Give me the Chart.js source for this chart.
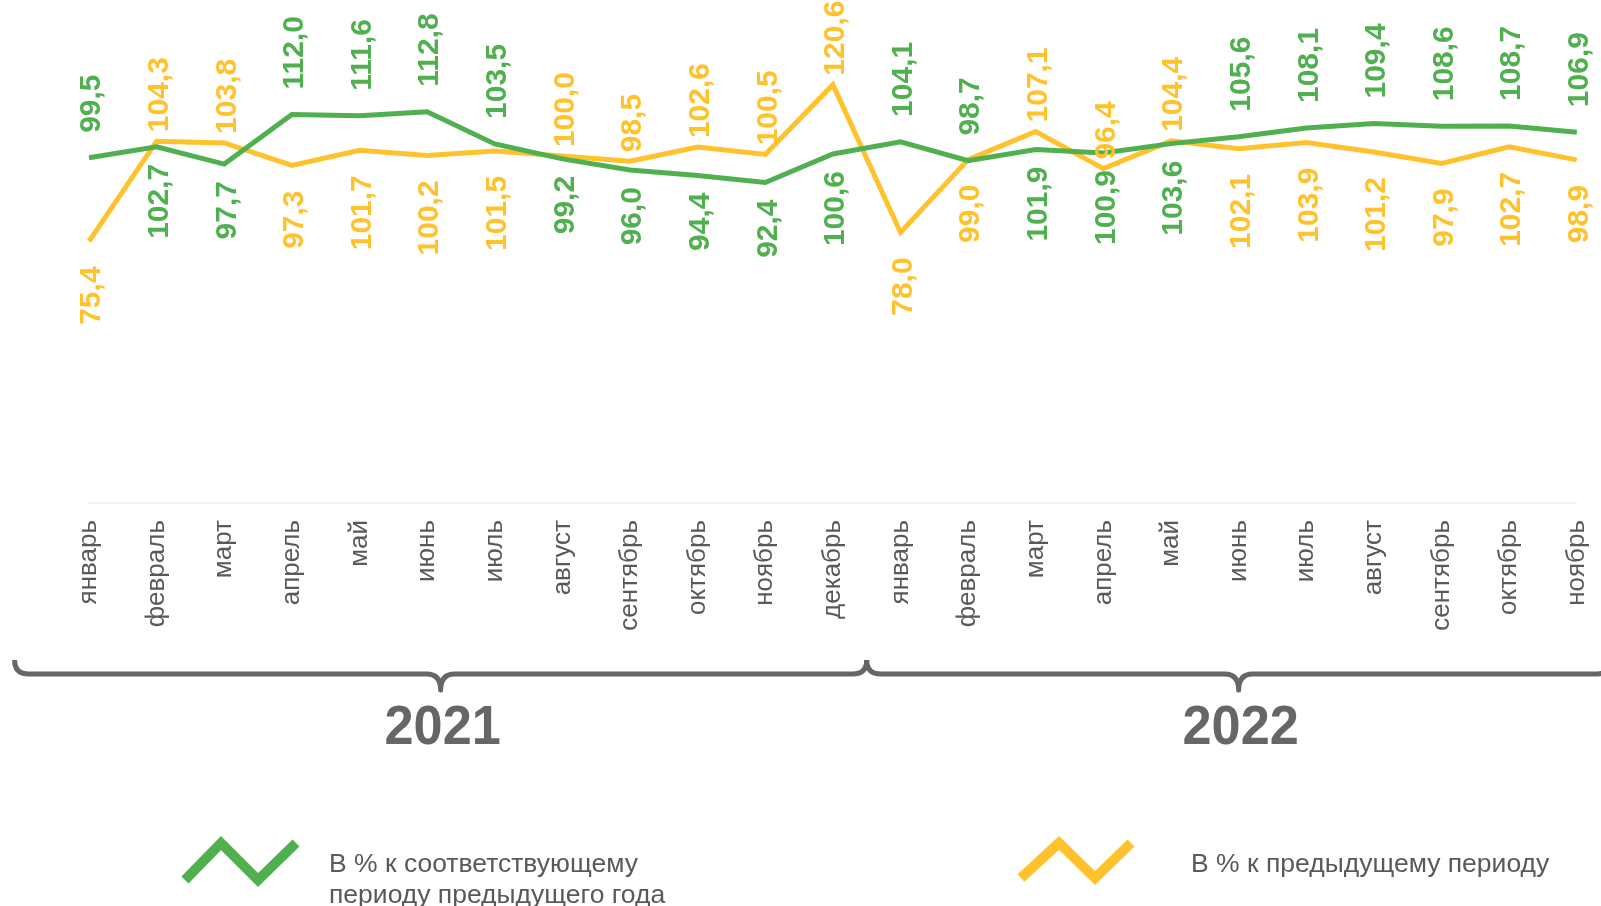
<!DOCTYPE html>
<html lang="ru">
<head>
<meta charset="utf-8">
<script src="https://cdn.jsdelivr.net/npm/chart.js@4"></script>
<style>
  html, body { margin: 0; padding: 0; background: #fff; }
  #wrap { position: relative; width: 1601px; height: 906px; overflow: hidden; }
  canvas { position: absolute; left: 0; top: 0; }
  .leg { position: absolute; font: 26.5px "Liberation Sans", Arial, sans-serif; color: #595959; line-height: 31px; white-space: nowrap; }
</style>
</head>
<body>
<div id="wrap">
  <canvas id="chart" width="1625" height="906"></canvas>
  <svg class="leg" style="left:0;top:0" width="1601" height="906">
    <polyline points="185,880 221,843 258,880 296,843" fill="none" stroke="#50b050" stroke-width="10"/>
    <polyline points="1021,878 1059,843 1095,878 1131,843" fill="none" stroke="#ffc22c" stroke-width="10"/>
  </svg>
  <div class="leg" style="left:329px;top:848px">В % к соответствующему<br>периоду предыдущего года</div>
  <div class="leg" style="left:1191px;top:848px">В % к предыдущему периоду</div>
</div>
<script>
// месяцы 2021 (янв-дек) и 2022 (янв-ноя)
const months = ['январь', 'февраль', 'март', 'апрель', 'май', 'июнь', 'июль', 'август', 'сентябрь', 'октябрь', 'ноябрь', 'декабрь',
  'январь', 'февраль', 'март', 'апрель', 'май', 'июнь', 'июль', 'август', 'сентябрь', 'октябрь', 'ноябрь'];
const years = ['2021', '2022'];

// в % к соответствующему периоду предыдущего года
const toLastYear = [99.5, 102.7, 97.7, 112.0, 111.6, 112.8, 103.5, 99.2, 96.0, 94.4, 92.4, 100.6,
  104.1, 98.7, 101.9, 100.9, 103.6, 105.6, 108.1, 109.4, 108.6, 108.7, 106.9];
// в % к предыдущему периоду
const toPrevPeriod = [75.4, 104.3, 103.8, 97.3, 101.7, 100.2, 101.5, 100.0, 98.5, 102.6, 100.5, 120.6,
  78.0, 99.0, 107.1, 96.4, 104.4, 102.1, 103.9, 101.2, 97.9, 102.7, 98.9];

// 1 = подпись зелёной линии сверху (жёлтая тогда снизу)
const greenLabelUp = [1, 0, 0, 1, 1, 1, 1, 0, 0, 0, 0, 0, 1, 1, 0, 0, 0, 1, 1, 1, 1, 1, 1];

const GREEN = '#50b050';
const YELLOW = '#ffc22c';
const GREY = '#595959';

// отступ подписи от точки: [сверху, снизу] для каждой линии
const labelGap = [[25, 17], [9, 25]];

const fmt = (v) => v.toFixed(1).replace('.', ',');

// подписи значений, повёрнутые на 90°
const valueLabels = {
  id: 'valueLabels',
  afterDatasetsDraw(chart) {
    const ctx = chart.ctx;
    chart.data.datasets.forEach((ds, di) => {
      const meta = chart.getDatasetMeta(di);
      meta.data.forEach((pt, i) => {
        const up = di === 0 ? greenLabelUp[i] === 1 : greenLabelUp[i] === 0;
        const gap = labelGap[di][up ? 0 : 1];
        ctx.save();
        ctx.translate(pt.x + 1, pt.y + (up ? -gap : gap));
        ctx.rotate(-Math.PI / 2);
        ctx.font = 'bold 30px "Liberation Sans", Arial, sans-serif';
        ctx.textAlign = up ? 'left' : 'right';
        ctx.textBaseline = 'middle';
        ctx.fillStyle = ds.borderColor;
        ctx.fillText(fmt(ds.data[i]), 0, 2);
        ctx.restore();
      });
    });
  }
};

// фигурные скобки и годы под осью
const yearBraces = {
  id: 'yearBraces',
  afterDraw(chart) {
    const ctx = chart.ctx;
    const x = chart.scales.x;
    const step = x.getPixelForValue(1) - x.getPixelForValue(0);
    const start = x.getPixelForValue(0) - 1.1 * step;
    const join = (x.getPixelForValue(11) + x.getPixelForValue(12)) / 2;
    const end = x.getPixelForValue(22) + 0.5 * step;
    const yTop = 660, yBase = 674, yTip = 690, r = 14;

    function brace(a, b) {
      const m = (a + b) / 2;
      ctx.beginPath();
      ctx.moveTo(a, yTop);
      ctx.quadraticCurveTo(a, yBase, a + r, yBase);
      ctx.lineTo(m - r, yBase);
      ctx.quadraticCurveTo(m, yBase, m, yTip);
      ctx.quadraticCurveTo(m, yBase, m + r, yBase);
      ctx.lineTo(b - r, yBase);
      ctx.quadraticCurveTo(b, yBase, b, yTop);
      ctx.stroke();
    }

    ctx.save();
    ctx.strokeStyle = '#666666';
    ctx.lineWidth = 5;
    ctx.lineJoin = 'round';
    brace(start, join);
    brace(join, end);

    ctx.fillStyle = '#666666';
    ctx.font = 'bold 55px "Liberation Sans", Arial, sans-serif';
    ctx.textAlign = 'center';
    ctx.textBaseline = 'middle';
    [[start, join], [join, end]].forEach(([a, b], k) => {
      ctx.save();
      ctx.translate((a + b) / 2 + 2, 729);
      ctx.scale(0.95, 1);
      ctx.fillText(years[k], 0, 0);
      ctx.restore();
    });
    ctx.restore();
  }
};

new Chart(document.getElementById('chart'), {
  type: 'line',
  data: {
    labels: months,
    datasets: [
      {
        label: 'В % к соответствующему периоду предыдущего года',
        data: toLastYear,
        borderColor: GREEN,
        backgroundColor: GREEN,
        borderWidth: 5,
        pointRadius: 0,
        tension: 0,
      },
      {
        label: 'В % к предыдущему периоду',
        data: toPrevPeriod,
        borderColor: YELLOW,
        backgroundColor: YELLOW,
        borderWidth: 5,
        pointRadius: 0,
        tension: 0,
      },
    ],
  },
  options: {
    responsive: false,
    animation: false,
    layout: { padding: { left: 89, right: 25, top: 0, bottom: 263 } },
    plugins: {
      legend: { display: false },
      tooltip: { enabled: false },
    },
    scales: {
      x: {
        grid: { display: false, drawTicks: false },
        border: { display: true, color: '#f2f2f2', width: 2 },
        ticks: {
          color: GREY,
          font: { family: '"Liberation Sans", Arial, sans-serif', size: 26 },
          minRotation: 90,
          maxRotation: 90,
          autoSkip: false,
          padding: 17,
        },
        afterFit: (axis) => { axis.height = 140; },
      },
      y: {
        display: false,
        min: 0,
        max: 145,
      },
    },
  },
  plugins: [valueLabels, yearBraces],
});
</script>
</body>
</html>
